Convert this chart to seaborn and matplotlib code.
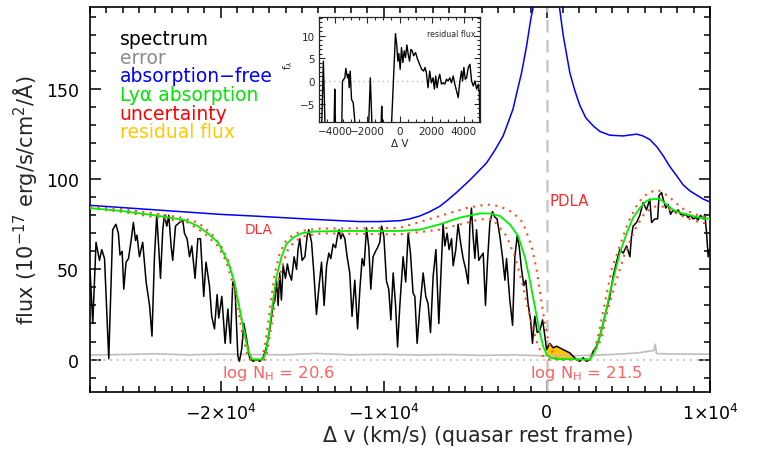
import numpy as np
import pandas as pd
import matplotlib
matplotlib.use("Agg")
import matplotlib.pyplot as plt
from matplotlib.ticker import MultipleLocator, FixedLocator
import seaborn as sns

# ---------------- data ----------------
spec_v = [-28000, -27830, -27630, -27420, -27280, -27110, -26850, -26610, -26410, -26260,
          -26160, -26030, -25930, -25790, -25640, -25480, -25340, -25210, -25120, -24970,
          -24770, -24560, -24350, -24200, -24050, -23910, -23780, -23680, -23540, -23440,
          -23290, -23170, -23030, -22930, -22760, -22520, -22310, -22210, -22050, -21900,
          -21760, -21560, -21390, -21230, -21030, -20890, -20680, -20540, -20370, -20210,
          -20110, -19920, -19720, -19550, -19390, -19250, -19110, -18940, -18840, -18700,
          -18570, -18430, -18220, -18000, -17800, -17590, -17390, -17180, -16980, -16780,
          -16670, -16570, -16470, -16370, -16270, -16160, -16020, -15900, -15800, -15650,
          -15490, -15340, -15250, -15140, -15000, -14830, -14690, -14590, -14420, -14280,
          -14120, -13980, -13810, -13650, -13500, -13360, -13240, -13100, -12950, -12830,
          -12730, -12630, -12520, -12380, -12240, -12080, -11940, -11770, -11600, -11460,
          -11320, -11200, -11050, -10910, -10790, -10650, -10500, -10380, -10240, -10130,
          -9990, -9830, -9690, -9560, -9420, -9270, -9150, -9010, -8810, -8650,
          -8500, -8360, -8200, -8090, -7950, -7790, -7580, -7420, -7280, -7130,
          -6970, -6800, -6620, -6460, -6360, -6250, -6110, -5990, -5840, -5740,
          -5580, -5440, -5290, -5130, -4970, -4820, -4720, -4620, -4520, -4410,
          -4310, -4170, -4050, -3900, -3760, -3640, -3490, -3330, -3190, -3050,
          -2880, -2720, -2570, -2470, -2270, -2100, -1960, -1820, -1700, -1550,
          -1410, -1290, -1150, -1000, -880, -740, -590, -430, -260, -120,
          -20, 180, 390, 590, 800, 1000, 1210, 1410, 1610, 1820,
          2020, 2230, 2430, 2640, 2840, 3050, 3250, 3450, 3660, 3860,
          4060, 4270, 4470, 4680, 4890, 5090, 5190, 5290, 5500, 5700,
          5900, 6110, 6310, 6420, 6620, 6790, 6880, 7030, 7130, 7290,
          7440, 7580, 7740, 7910, 8050, 8200, 8360, 8520, 8660, 8810,
          8970, 9130, 9270, 9420, 9580, 9690, 9790, 9890, 9960]
spec_f = [50, 20, 65, 55, 61, 56, 0.5, 72, 75, 70,
          58, 60, 39, 54, 56, 66, 76, 66, 69, 57,
          65, 43, 30, 13, 57, 80, 61, 45, 72, 80,
          74, 80, 63, 55, 74, 76, 77, 70, 67, 57,
          63, 45, 67, 67, 35, 54, 41, 24, 17, 36,
          23, 35, 9, 28, 9, 43, 39, 2, -1, 6,
          20, 13, 1, -1, 0, -1, 1, 7, 17, 30,
          33, 44, 30, 48, 33, 52, 45, 53, 48, 44,
          57, 50, 61, 67, 55, 57, 68.5, 72, 65, 48,
          25, 39, 54, 30, 52, 59, 56, 64, 62, 68.5,
          72, 67, 70, 67, 57, 48, 24, 44, 17, 39,
          56, 52, 73, 62, 39, 57, 60, 62, 65, 74,
          68.5, 43.5, 39, 22, 48, 30, 7, 30, 57, 43,
          70, 59, 37, 35, 9, 28, 48, 35, 31, 15,
          46, 61, 20, 54, 75, 63, 70, 61, 67, 52,
          61, 75, 65, 56, 50, 42, 74, 84, 68.5, 56,
          72, 55, 57, 59, 30, 54, 76, 82, 79, 78,
          68.5, 57, 44, 56, 33, 19, 57, 68.5, 63, 50,
          41, 44, 31, 22, 9, 24, 15, 16, 22, 13,
          5.5, 9, 6.5, 7.4, 6.5, 5.5, 4.6, 3.7, 1.8, 0,
          -1, 1, -1, 0, 4.6, 7.4, 13, 20, 28, 35,
          46, 54, 61, 59, 63, 57, 68.5, 74, 76, 80,
          87, 83, 89, 76, 78, 78, 91, 92.6, 89, 84,
          86, 80.5, 83, 81.5, 83, 80.5, 80, 80.5, 78.7, 80,
          78, 78.7, 77.4, 80, 78, 80.5, 70, 57, 61]

err_v = [-28000, -26000, -24000, -22000, -20000, -18000, -16000, -14200, -12000, -10000,
         -8000, -6000, -4000, -2000, 0, 2000, 4000, 5500, 6550, 6650, 6720, 7500, 8500, 10000]
err_f = [2.5, 2.8, 3.2, 2.6, 3.0, 2.8, 2.6, 3.4, 2.6, 2.9,
         2.5, 2.8, 2.3, 2.6, 2.0, 2.2, 2.8, 3.6, 5.0, 8.5, 3.3, 3.1, 3.0, 3.0]

cont_v = [-28000, -24000, -20000, -18000, -16000, -14420, -11500, -10240, -9010, -8400,
          -7790, -7170, -6560, -6070, -5540, -4720, -4230, -3700, -3190, -2680,
          -2390, -2070, -1840, -1550, -1240, -980, -800, -500, 0, 500,
          750, 1000, 1410, 1720, 2020, 2390, 2840, 3250, 3860, 4680,
          5500, 5890, 6310, 6740, 7130, 7540, 7950, 8340, 8770, 9580, 10000]
cont_f = [85.5, 83, 80.5, 79.6, 78.6, 77.8, 76.5, 76.5, 77, 78,
          79.6, 82, 85, 88.5, 92.6, 99.5, 104, 109, 116, 124,
          131, 139, 148, 159, 174, 189, 197, 230, 280, 230,
          197, 180, 159, 149, 141, 134, 129.6, 126.5, 124.4, 124,
          125, 124, 122, 118, 113, 107, 102, 97, 93.5, 89, 87.4]

model_v = [-28000, -26100, -24050, -22210, -21390, -20780, -20160, -19760, -19450, -19140,
           -18900, -18700, -18490, -18330, -18130, -18020, -17390, -17180, -16980, -16780,
           -16570, -16260, -15960, -15550, -15040, -14220, -12380, -9010, -7790, -6560,
           -5330, -4110, -3490, -2880, -2270, -1760, -1350, -1040, -740, -470,
           -230, -20, 230, 550, 2640, 2840, 3050, 3250, 3560, 3860,
           4170, 4470, 4890, 5290, 5700, 6110, 6520, 6930, 7340, 7740,
           8150, 8770, 9380, 10000]
model_f = [84, 82.4, 80, 77.4, 74, 70, 65, 58, 52, 42.6,
           31.5, 22, 13, 5.5, 1, 0, 0, 5.5, 18.5, 33,
           46, 57, 64, 67.6, 70, 71, 71.3, 71.3, 72, 75,
           78.7, 81, 81, 79.6, 75, 68.5, 57, 44, 29.6, 16.7,
           7.4, 2.8, 1, 0.3, 0, 2.8, 6.5, 13, 24, 37,
           48, 59, 70, 78.7, 84, 88, 89, 89, 86, 83,
           81.5, 80, 78.7, 78]

upper_v = [-28000, -26100, -24050, -22420, -21390, -20580, -19970, -19550, -19250, -18940,
           -18700, -18430, -18160, -18020, -17470, -17290, -17080, -16880, -16670, -16370,
           -16060, -15650, -15040, -14020, -9010, -6560, -4920, -3700, -2880, -2080,
           -1470, -940, -630, -320, -120, 80, 390, 610, 2510, 2760,
           2940, 3140, 3560, 3970, 4470, 4980, 5600, 6210, 6820, 7440,
           8260, 9070, 10000]
upper_f = [84.5, 83.5, 81, 78.7, 76, 70, 63, 55.6, 46, 33,
           22, 11, 2, 0, 0, 7.4, 20, 35, 48, 59,
           65, 68.5, 71.3, 72.6, 73, 79.6, 84, 86, 85, 81.5,
           76, 63, 50, 31.5, 20, 11, 2.8, 0, 0, 2,
           6, 13, 31.5, 50, 63, 76, 87, 92.6, 94, 90.7,
           84, 80.5, 78.7]

lower_v = [-28000, -26100, -24050, -22010, -20980, -20170, -19660, -19310, -19050, -18780,
           -18530, -18330, -18210, -17230, -17080, -16880, -16670, -16470, -16160, -15860,
           -15450, -14830, -13810, -9010, -6560, -4110, -3310, -2470, -1960, -1550,
           -1150, -840, -530, -230, 0, 2510, 2740, 3330, 3740, 4270,
           4780, 5390, 6010, 6620, 7230, 8050, 9070, 10000]
lower_f = [84, 82, 79, 76, 70, 63, 54.6, 44, 33, 20,
           9, 2, 0, 0, 7.4, 18.5, 31.5, 42.6, 53.7, 61,
           65.7, 68.5, 70, 69.4, 72, 77.8, 77.8, 68.5, 57, 44,
           27.8, 16.7, 7.4, 1.9, 0, 0, 1.9, 11, 27.8, 44,
           59, 72, 81.5, 84.8, 84.8, 80.5, 76.8, 75]

res_v = [-5000, -4833, -4729, -4625, -4062, -4021, -3979, -3583, -3542, -3396,
         -3333, -3229, -3167, -3125, -3062, -2979, -2875, -2750, -1917, -1813,
         -1708, -1146, -1104, -1063, -500, -250, -167, -104, -42, 42,
         125, 208, 292, 375, 458, 542, 625, 708, 792, 875,
         1000, 1125, 1250, 1375, 1500, 1583, 1667, 1771, 1875, 1979,
         2083, 2167, 2250, 2333, 2417, 2500, 2604, 2708, 2813, 2917,
         3021, 3125, 3229, 3333, 3438, 3646, 3750, 3854, 3917, 4000,
         4083, 4167, 4271, 4375, 4479, 4583, 4688, 4792, 4896, 4958, 5000]
res_f = [-10, -10, 4.4, -10, -10, -1.8, -10, -10, 0, 0.7,
         2.8, 0.7, 1.5, -1.5, 2.2, -4.1, -4.8, -10, -10, 0.7,
         -10, -10, -5.6, -10, -10, 10.5, 7.8, 4.4, 6.1, 2.6,
         7.4, 4.1, 6.7, 5.2, 8.0, 5.9, 4.4, 7.0, 6.7, 5.6,
         6.3, 4.8, 3.7, 2.6, 2.2, 3.0, 1.9, -1.5, 2.2, -0.4,
         0.7, -1.8, 1.1, -1.5, 0.4, 1.5, -0.7, -0.4, -0.7, 0.4,
         0.0, 0.7, -0.4, 1.1, -0.7, -3.7, 0.0, 2.2, 0.0, 3.0,
         0.4, 0.7, 3.0, 3.7, 0.0, -1.1, 0.0, -1.8, -0.7, -2.6, -10]

legend_labels = ["spectrum", "error", "absorption\u2212free", "Ly\u03b1 absorption",
                 "uncertainty", "residual flux"]
legend_colors = ["#000000", "#8c8c8c", "#0000ff", "#00e600", "#ff0000", "#ffc800"]

xtick_vals = [-20000, -10000, 0, 10000]
xtick_labels = [r"$-2{\times}10^{4}$", r"$-1{\times}10^{4}$", "0", r"$1{\times}10^{4}$"]
ytick_vals = [0, 50, 100, 150]

# ---------------- figure ----------------
sns.set_style("ticks")
plt.rcParams["font.family"] = ["DejaVu Sans"]
plt.rcParams["mathtext.fontset"] = "dejavusans"

fig = plt.figure(figsize=(7.61, 4.52), dpi=100)
ax = fig.add_axes([90 / 761, 1 - 393 / 452, 620 / 761, 385 / 452])

def line(axx, xv, yv, **kw):
    df = pd.DataFrame({"x": xv, "y": yv})
    sns.lineplot(data=df, x="x", y="y", ax=axx, estimator=None, sort=False, **kw)

# zero line and x=0 marker
ax.axhline(0, color="#b4b4b4", lw=1.2, ls=(0, (1, 3)), zorder=1)
ax.axvline(0, color="#c8c8c8", lw=1.8, ls=(0, (5, 3)), zorder=1)

# residual flux fill
sv = np.array(spec_v, float)
sf = np.array(spec_f, float)
mf = np.interp(sv, model_v, model_f)
m = (sv >= -20) & (sv <= 2700)
ax.fill_between(sv[m], mf[m], sf[m], where=sf[m] > mf[m], interpolate=True,
                color="#ffc400", lw=0, zorder=2)

line(ax, err_v, err_f, color="#bdbdbd", lw=1.2, zorder=2)
line(ax, cont_v, cont_f, color="#0000ff", lw=1.1, zorder=3)
line(ax, spec_v, spec_f, color="#000000", lw=1.1, zorder=4)
line(ax, upper_v, upper_f, color="#ff4a20", lw=1.5, linestyle=(0, (1, 2.6)), zorder=5)
line(ax, lower_v, lower_f, color="#ff4a20", lw=1.5, linestyle=(0, (1, 2.6)), zorder=5)
line(ax, model_v, model_f, color="#00ee00", lw=1.3, zorder=6)

ax.set_xlim(-28000, 10000)
ax.set_ylim(-18, 195.5)
ax.xaxis.set_major_locator(FixedLocator(xtick_vals))
ax.set_xticklabels(xtick_labels)
ax.xaxis.set_minor_locator(MultipleLocator(1000))
ax.yaxis.set_major_locator(FixedLocator(ytick_vals))
ax.yaxis.set_minor_locator(MultipleLocator(10))
ax.tick_params(which="both", direction="in", top=True, right=True, width=1.1,
               labelsize=12.5, colors="black")
ax.tick_params(which="major", length=8, pad=8)
ax.tick_params(which="minor", length=4.5)
for s in ax.spines.values():
    s.set_linewidth(1.2)
    s.set_color("black")

ax.set_xlabel("\u0394 v (km/s) (quasar rest frame)", fontsize=14.8)
ax.xaxis.set_label_coords(0.626, -0.085)
ax.set_ylabel("flux (10$^{-17}$ erg/s/cm$^{2}$/\u00c5)", fontsize=15)
ax.yaxis.set_label_coords(-0.08, 0.5)

# legend text block
for i, (lab, col) in enumerate(zip(legend_labels, legend_colors)):
    ax.text(0.048, 0.918 - i * 0.0485, lab, color=col, fontsize=13.5,
            transform=ax.transAxes, ha="left", va="center")

ax.text(-18500, 72.5, "DLA", color="#ff2a2a", fontsize=9.8, ha="left", va="center")
ax.text(150, 88, "PDLA", color="#ff2a2a", fontsize=10.8, ha="left", va="center")
ax.text(-19900, -7.2, r"log N$_{\rm H}$ = 20.6", color="#ff6262", fontsize=11.8,
        ha="left", va="center")
ax.text(-1040, -7.2, r"log N$_{\rm H}$ = 21.5", color="#ff6262", fontsize=11.8,
        ha="left", va="center")

# ---------------- inset ----------------
ins = fig.add_axes([319 / 761, 1 - 123 / 452, 161 / 761, 105 / 452])
ins.axhline(0, color="#c0c0c0", lw=1.0, ls=(0, (1, 2.5)), zorder=1)
line(ins, res_v, res_f, color="black", lw=1.0, zorder=3)
ins.set_xlim(-5000, 5000)
ins.set_ylim(-9.1, 14.2)
ins.xaxis.set_major_locator(FixedLocator([-4000, -2000, 0, 2000, 4000]))
ins.xaxis.set_minor_locator(MultipleLocator(500))
ins.yaxis.set_major_locator(FixedLocator([-5, 0, 5, 10]))
ins.yaxis.set_minor_locator(MultipleLocator(1))
ins.tick_params(which="both", direction="in", top=True, right=True, width=0.8,
                labelsize=7.5, pad=3)
ins.tick_params(which="major", length=4)
ins.tick_params(which="minor", length=2)
for s in ins.spines.values():
    s.set_linewidth(0.9)
ins.set_xlabel("\u0394 V", fontsize=7.5, labelpad=1)
ins.set_ylabel(r"f$_{\lambda}$", fontsize=7.5)
ins.yaxis.set_label_coords(-0.15, 0.55)
ins.text(0.975, 0.84, "residual flux", fontsize=5.6, ha="right", va="center",
         transform=ins.transAxes)

fig.savefig("out.png", dpi=100)
